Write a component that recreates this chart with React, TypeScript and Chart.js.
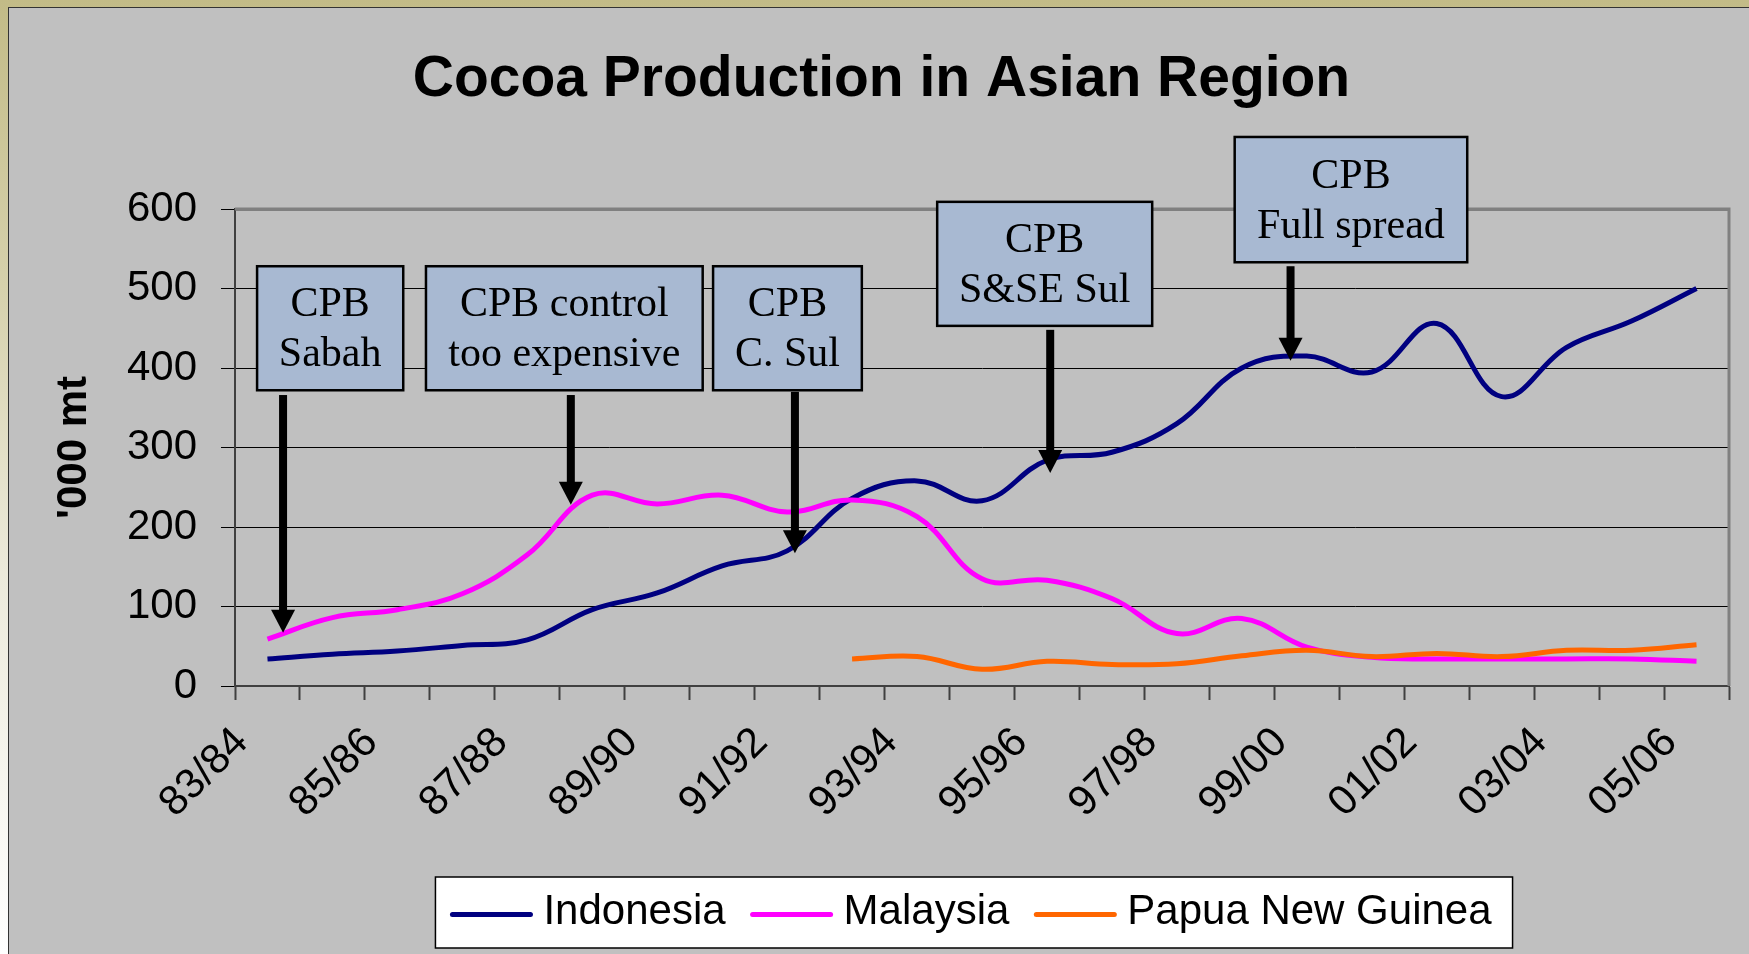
import React, { useEffect, useRef } from 'react';
import { Chart, registerables } from 'chart.js';

Chart.register(...registerables);

// ---- data ----
const seasons = [
  '83/84', '84/85', '85/86', '86/87', '87/88', '88/89', '89/90', '90/91', '91/92', '92/93', '93/94', '94/95',
  '95/96', '96/97', '97/98', '98/99', '99/00', '00/01', '01/02', '02/03', '03/04', '04/05', '05/06',
];
const indonesia = [34, 40, 44, 51, 58, 96, 117, 151, 170, 236, 258, 233, 284, 294, 330, 400, 415, 395, 456, 364, 426, 459, 500];
const malaysia = [59, 86, 96, 116, 165, 240, 229, 240, 219, 234, 213, 135, 133, 110, 66, 85, 49, 36, 34, 34, 34, 34, 31];
const papuaNewGuinea = [null, null, null, null, null, null, null, null, null, 34, 37, 21, 31, 27, 28, 38, 45, 37, 41, 37, 45, 45, 52];
const seriesNames = ['Indonesia', 'Malaysia', 'Papua New Guinea'];
const seriesColors = ['#000080', '#FF00FF', '#FF6600'];
const yMin = 0;
const yMax = 600;
const yStep = 100;
const chartTitle = 'Cocoa Production in Asian Region';
const yTitle = "'000 mt";

// annotation notes: box in data units (category index / value), arrow x, start, tip
const notes = [
  { lines: ['CPB', 'Sabah'], x0: -0.16, x1: 2.09, yTop: 528, yBottom: 372, ax: 0.24, aStart: 366, aTip: 67 },
  { lines: ['CPB control', 'too expensive'], x0: 2.44, x1: 6.7, yTop: 528, yBottom: 372, ax: 4.67, aStart: 366, aTip: 228 },
  { lines: ['CPB', 'C. Sul'], x0: 6.86, x1: 9.15, yTop: 528, yBottom: 372, ax: 8.12, aStart: 370, aTip: 167 },
  { lines: ['CPB', 'S&SE Sul'], x0: 10.31, x1: 13.62, yTop: 609, yBottom: 453, ax: 12.05, aStart: 448, aTip: 268 },
  { lines: ['CPB', 'Full spread'], x0: 14.89, x1: 18.47, yTop: 690.6, yBottom: 533, ax: 15.75, aStart: 528, aTip: 409 },
];

const SANS = '"Liberation Sans", Arial, sans-serif';
const SERIF = '"Liberation Serif", "Times New Roman", serif';

const framePlugin = {
  id: 'plotFrame',
  beforeDatasetsDraw(chart: any) {
    const { ctx, chartArea } = chart;
    ctx.save();
    ctx.strokeStyle = '#808080';
    ctx.lineWidth = 3;
    ctx.beginPath();
    ctx.moveTo(chartArea.left, chartArea.top);
    ctx.lineTo(chartArea.right, chartArea.top);
    ctx.lineTo(chartArea.right, chartArea.bottom);
    ctx.stroke();
    ctx.restore();
  },
};

const notesPlugin = {
  id: 'cpbNotes',
  afterDatasetsDraw(chart: any) {
    const { ctx } = chart;
    const x = chart.scales.x;
    const y = chart.scales.y;
    ctx.save();
    for (const n of notes) {
      const l = x.getPixelForValue(n.x0);
      const r = x.getPixelForValue(n.x1);
      const t = y.getPixelForValue(n.yTop);
      const b = y.getPixelForValue(n.yBottom);
      ctx.fillStyle = 'rgb(168,185,210)';
      ctx.fillRect(l, t, r - l, b - t);
      ctx.lineWidth = 2.5;
      ctx.strokeStyle = '#000';
      ctx.strokeRect(l, t, r - l, b - t);
      ctx.fillStyle = '#000';
      ctx.font = `42px ${SERIF}`;
      ctx.textAlign = 'center';
      ctx.textBaseline = 'middle';
      const cx = (l + r) / 2;
      const cy = (t + b) / 2;
      const lh = 50;
      n.lines.forEach((s, i) => {
        ctx.fillText(s, cx, cy + (i - (n.lines.length - 1) / 2) * lh + 2);
      });
      // arrow
      const axp = x.getPixelForValue(n.ax);
      const ys = y.getPixelForValue(n.aStart);
      const yt = y.getPixelForValue(n.aTip);
      const headLen = 23;
      const headHalf = 12;
      ctx.fillRect(axp - 4, ys, 8, yt - headLen - ys + 1);
      ctx.beginPath();
      ctx.moveTo(axp - headHalf, yt - headLen);
      ctx.lineTo(axp + headHalf, yt - headLen);
      ctx.lineTo(axp, yt);
      ctx.closePath();
      ctx.fill();
    }
    ctx.restore();
  },
};

const legendPlugin = {
  id: 'boxLegend',
  afterDraw(chart: any) {
    const { ctx, chartArea } = chart;
    ctx.save();
    ctx.font = `42px ${SANS}`;
    const lineLen = 82;
    const gapLT = 11;
    const gapItems = 25;
    const padL = 15;
    const padR = 21;
    const widths = seriesNames.map((s) => ctx.measureText(s).width);
    const total = padL + padR + widths.reduce((a, w) => a + lineLen + gapLT + w, 0) + gapItems * (seriesNames.length - 1);
    const left = (chartArea.left + chartArea.right) / 2 - 8 - total / 2;
    const top = chartArea.bottom + 191;
    const h = 71;
    ctx.fillStyle = '#fff';
    ctx.fillRect(left, top, total, h);
    ctx.strokeStyle = '#000';
    ctx.lineWidth = 1.5;
    ctx.strokeRect(left, top, total, h);
    const cy = top + h / 2;
    let cx = left + padL;
    seriesNames.forEach((s, i) => {
      ctx.strokeStyle = seriesColors[i];
      ctx.lineWidth = 5;
      ctx.lineCap = 'round';
      ctx.beginPath();
      ctx.moveTo(cx + 2, cy + 2);
      ctx.lineTo(cx + lineLen - 2, cy + 2);
      ctx.stroke();
      cx += lineLen + gapLT;
      ctx.fillStyle = '#000';
      ctx.textAlign = 'left';
      ctx.textBaseline = 'middle';
      ctx.fillText(s, cx, cy);
      cx += widths[i] + gapItems;
    });
    ctx.restore();
  },
};

export default function App() {
  const canvasRef = useRef<HTMLCanvasElement | null>(null);

  useEffect(() => {
    const canvas = canvasRef.current;
    if (!canvas) return;
    const allSeries = [indonesia, malaysia, papuaNewGuinea];
    const chart = new Chart(canvas, {
      type: 'line',
      data: {
        labels: seasons,
        datasets: allSeries.map((d, i) => ({
          label: seriesNames[i],
          data: d,
          borderColor: seriesColors[i],
          backgroundColor: seriesColors[i],
          borderWidth: 5,
          pointRadius: 0,
          tension: 0.4,
          fill: false,
          spanGaps: false,
          order: allSeries.length - i,
        })),
      },
      options: {
        responsive: false,
        animation: false,
        devicePixelRatio: 1,
        layout: { padding: { left: 34, right: 20, top: 0, bottom: 0 } },
        plugins: {
          legend: { display: false },
          tooltip: { enabled: false },
          title: {
            display: true,
            text: chartTitle,
            color: '#000',
            font: { family: SANS, size: 57, weight: 'bold', lineHeight: 1.2 },
            padding: { top: 46, bottom: 94.6 },
          },
        },
        scales: {
          x: {
            type: 'category',
            offset: true,
            afterFit: (s: any) => {
              s.height = 268;
              s.paddingRight = 0;
              s.paddingLeft = 0;
            },
            grid: {
              offset: true,
              drawOnChartArea: false,
              drawTicks: true,
              tickLength: 14,
              tickColor: '#404040',
              tickWidth: 2,
            },
            border: { display: true, color: '#404040', width: 2 },
            ticks: {
              autoSkip: false,
              maxRotation: 45,
              minRotation: 45,
              padding: 18,
              labelOffset: -26,
              color: '#000',
              font: { family: SANS, size: 42 },
              callback: (_v: any, index: number) => (index % 2 === 0 ? seasons[index] : ''),
            },
          },
          y: {
            min: yMin,
            max: yMax,
            afterFit: (s: any) => {
              s.width = 201;
            },
            grid: {
              color: (c: any) => (c.tick && c.tick.value === yMax ? '#808080' : '#000'),
              lineWidth: (c: any) => (c.tick && c.tick.value === yMax ? 3 : 1),
              drawTicks: true,
              tickLength: 14,
              tickColor: '#000',
              tickWidth: 1,
            },
            border: { display: true, color: '#404040', width: 2 },
            ticks: {
              stepSize: yStep,
              padding: 24,
              color: '#000',
              font: { family: SANS, size: 42 },
            },
            title: {
              display: true,
              text: yTitle,
              color: '#000',
              font: { family: SANS, size: 42, weight: 'bold' },
              padding: { top: 15, bottom: 0 },
            },
          },
        },
      },
      plugins: [framePlugin, notesPlugin, legendPlugin],
    } as any);
    return () => chart.destroy();
  }, []);

  return (
    <div
      style={{
        position: 'absolute',
        left: 0,
        top: 0,
        width: 1749,
        height: 954,
        overflow: 'hidden',
        background: 'linear-gradient(to bottom, #C2BB87 0%, #D6D1AC 30%, #ECEADB 60%, #FFFFFF 100%)',
      }}
    >
      <div
        style={{
          position: 'absolute',
          left: 8,
          top: 7,
          width: 1760,
          height: 960,
          background: '#C0C0C0',
          borderLeft: '1px solid #333',
          borderTop: '1px solid #333',
        }}
      />
      <canvas
        ref={canvasRef}
        width={1749}
        height={954}
        style={{ position: 'absolute', left: 0, top: 0, width: 1749, height: 954 }}
      />
    </div>
  );
}
